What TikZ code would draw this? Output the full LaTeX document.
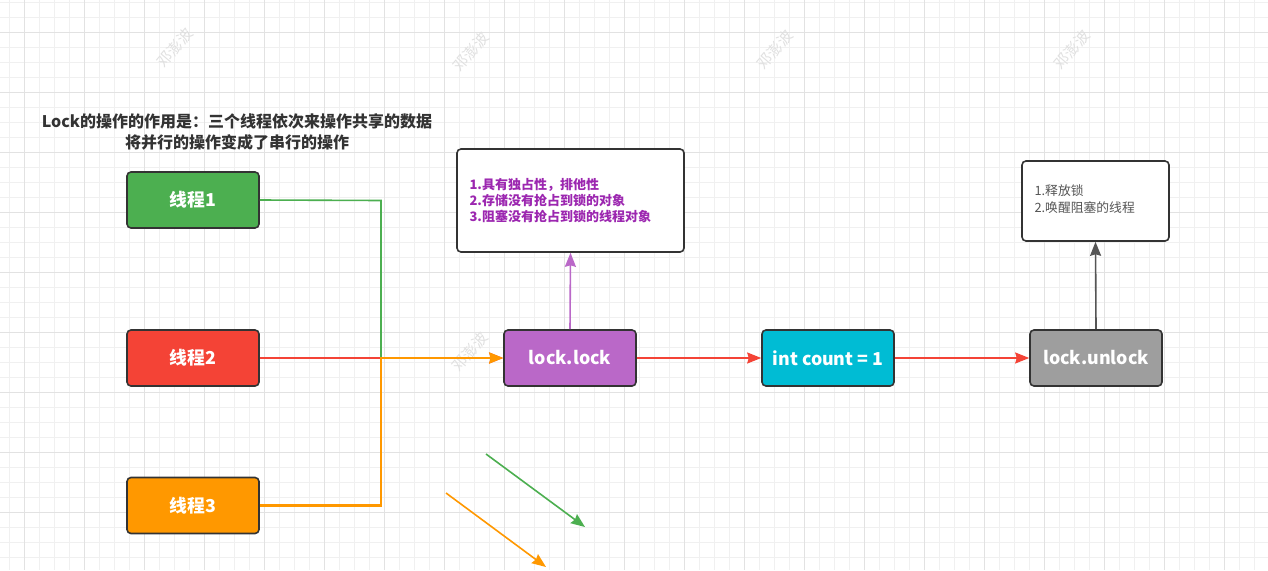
\documentclass[tikz,border=0pt]{standalone}
\usepackage{fontspec}
\setmainfont{Noto Sans CJK SC}
\usetikzlibrary{arrows.meta}
\definecolor{gmin}{HTML}{F0F0F0}
\definecolor{gmaj}{HTML}{E2E2E2}
\definecolor{cgreen}{HTML}{4CAF50}
\definecolor{cred}{HTML}{F44336}
\definecolor{corange}{HTML}{FF9800}
\definecolor{cpurple}{HTML}{BA68C8}
\definecolor{ccyan}{HTML}{00BCD4}
\definecolor{cgray}{HTML}{9E9E9E}
\definecolor{ctxtpurple}{HTML}{9C27B0}
\definecolor{ctxtgray}{HTML}{555555}
\definecolor{cborder}{HTML}{333333}
\tikzset{
  procbox/.style={draw=cborder, line width=1.6pt, rounded corners=4pt,
    minimum width=132pt, minimum height=56pt, text=white,
    font=\fontsize{17.8}{20}\selectfont\bfseries, inner sep=0pt},
  notebox/.style={draw=cborder, line width=1.6pt, rounded corners=4pt, fill=white, inner sep=0pt},
  conn/.style={line width=1.6pt, -{Stealth[length=14pt,width=11pt,inset=1.5pt]}},
  plain/.style={line width=1.6pt},
  wmark/.style={text=black!12, rotate=50, font=\fontsize{15}{15}\selectfont}
}
\begin{document}
\begin{tikzpicture}[x=1pt,y=-1pt]
\useasboundingbox (0,0) rectangle (1268,570);
\fill[white] (0,0) rectangle (1268,570);
% grid
\foreach \x in {9,24,...,1268} \draw[gmin, line width=0.8pt] (\x,0) -- (\x,570);
\foreach \y in {2,17,...,570} \draw[gmin, line width=0.8pt] (0,\y) -- (1268,\y);
\foreach \x in {24,84,...,1268} \draw[gmaj, line width=1pt] (\x,0) -- (\x,570);
\foreach \y in {32,92,...,570} \draw[gmaj, line width=1pt] (0,\y) -- (1268,\y);
% watermarks
\node[wmark] (w1) at (175,48) {邓澎波};
\node[wmark] (w2) at (471,52) {邓澎波};
\node[wmark] (w3) at (775,50) {邓澎波};
\node[wmark] (w4) at (1072,50) {邓澎波};
\node[wmark] (w5) at (470,352) {邓澎波};
% title
\node[font=\fontsize{16}{21}\selectfont\bfseries, text=cborder, align=center] (title) at (237,132)
  {Lock的操作的作用是：三个线程依次来操作共享的数据\\将并行的操作变成了串行的操作};
% process boxes
\node[procbox, fill=cgreen] (t1) at (193,200) {线程1};
\node[procbox, fill=cred] (t2) at (193,358) {线程2};
\node[procbox, fill=corange] (t3) at (193,505.5) {线程3};
\node[procbox, fill=cpurple] (lk) at (570,358) {lock.lock};
\node[procbox, fill=ccyan] (cnt) at (828,358) {int count = 1};
\node[procbox, fill=cgray] (ulk) at (1096,358) {lock.unlock};
% note boxes
\node[notebox, minimum width=227pt, minimum height=103pt] (n1) at (570.5,200.5) {};
\node[anchor=west, align=left, text=ctxtpurple, font=\fontsize{13}{16}\selectfont\bfseries] (n1t) at (466,201)
  {1.具有独占性，排他性\\2.存储没有抢占到锁的对象\\3.阻塞没有抢占到锁的线程对象};
\node[notebox, minimum width=147pt, minimum height=80pt] (n2) at (1095.5,201) {};
\node[anchor=west, align=left, text=ctxtgray, font=\fontsize{12.8}{17}\selectfont] (n2t) at (1031,199)
  {1.释放锁\\2.唤醒阻塞的线程};
% connectors
\coordinate (j) at (381,358);
\draw[plain, cgreen] (t1.east) -- (381,200.5) -- (j);
\draw[conn, cred] (t2.east) -- (lk.west);
\draw[conn, corange, line width=2.4pt] (t3.east) -- (381,505.5) -- (j) -- (lk.west);
\draw[conn, cpurple] (lk.north) -- (n1.south);
\draw[conn, cred] (lk.east) -- (cnt.west);
\draw[conn, cred] (cnt.east) -- (ulk.west);
\draw[conn, ctxtgray] (ulk.north) -- (n2.south);
% stray arrows
\coordinate (g1) at (486,454);
\coordinate (g2) at (585,527);
\coordinate (o1) at (446,493);
\coordinate (o2) at (546,567);
\draw[conn, cgreen] (g1) -- (g2);
\draw[conn, corange] (o1) -- (o2);
\end{tikzpicture}
\end{document}
